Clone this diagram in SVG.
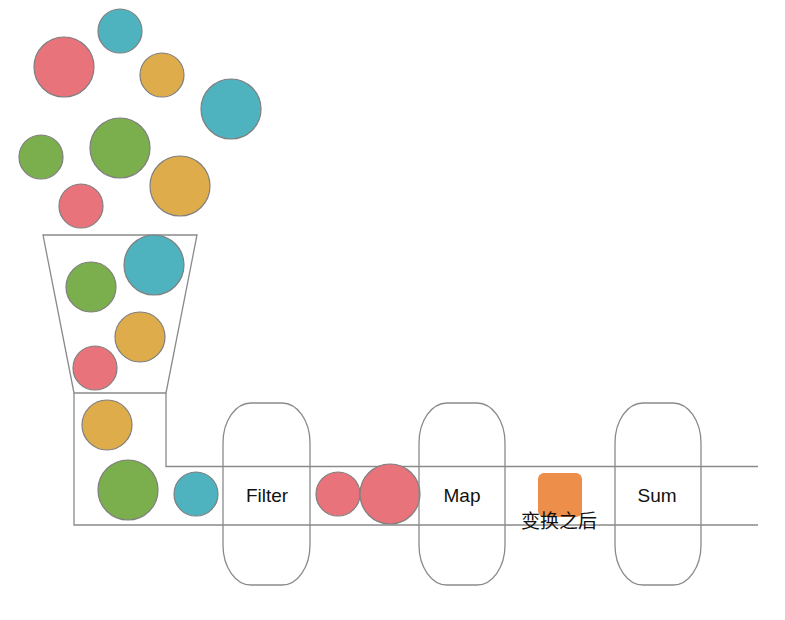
<svg xmlns="http://www.w3.org/2000/svg" width="785" height="620" viewBox="0 0 785 620">
<style>
.b{stroke:#7f7f7f;stroke-width:1.2}
.r{fill:#E9737B}
.c{fill:#4EB2BF}
.o{fill:#DEAC4A}
.g{fill:#7BAE4D}
.ln{fill:none;stroke:#8a8a8a;stroke-width:1.3}
.box{fill:none;stroke:#8a8a8a;stroke-width:1.3}
.t{font-family:"Liberation Sans",Arial,sans-serif;font-size:19px;fill:#111;text-anchor:middle}
.z{font-family:"Liberation Sans","Noto Sans CJK SC",sans-serif;font-size:19px;fill:#111;text-anchor:middle}
</style>
<rect width="785" height="620" fill="#fff"/>
<g id="connectors">
<path class="ln" d="M43 235 H197 L166 393 H74 Z"/>
<path class="ln" d="M74 393 V525 H758"/>
<path class="ln" d="M166 393 V466.5 H758"/>
</g>
<g id="balls-top">
<circle class="b c" cx="120" cy="31" r="22"/>
<circle class="b r" cx="64" cy="67" r="30"/>
<circle class="b o" cx="162" cy="75" r="22"/>
<circle class="b c" cx="231" cy="109" r="30"/>
<circle class="b g" cx="41" cy="157" r="22"/>
<circle class="b g" cx="120" cy="148" r="30"/>
<circle class="b o" cx="180" cy="186" r="30"/>
<circle class="b r" cx="81" cy="206" r="22"/>
</g>
<g id="balls-funnel">
<circle class="b c" cx="154" cy="265" r="30"/>
<circle class="b g" cx="91" cy="287" r="25"/>
<circle class="b o" cx="140" cy="337" r="25"/>
<circle class="b r" cx="95" cy="368" r="22"/>
<circle class="b o" cx="107" cy="425" r="25"/>
<circle class="b g" cx="128" cy="490" r="30"/>
<circle class="b c" cx="196" cy="494" r="22"/>
</g>
<g id="filter">
<rect class="box" x="223" y="403" width="87" height="182" rx="28" ry="40"/>
<text class="t" x="267" y="502">Filter</text>
</g>
<g id="balls-filtered">
<circle class="b r" cx="338" cy="494" r="22"/>
<circle class="b r" cx="390" cy="494" r="30"/>
</g>
<g id="map">
<rect class="box" x="419" y="403" width="86" height="182" rx="28" ry="40"/>
<text class="t" x="462" y="502">Map</text>
</g>
<g id="mapped">
<rect x="538" y="473" width="44" height="44" rx="6" fill="#EE8E4B"/>
<text class="z" x="559" y="528">变换之后</text>
</g>
<g id="sum">
<rect class="box" x="615" y="403" width="86" height="182" rx="28" ry="40"/>
<text class="t" x="657" y="502">Sum</text>
</g>
</svg>
